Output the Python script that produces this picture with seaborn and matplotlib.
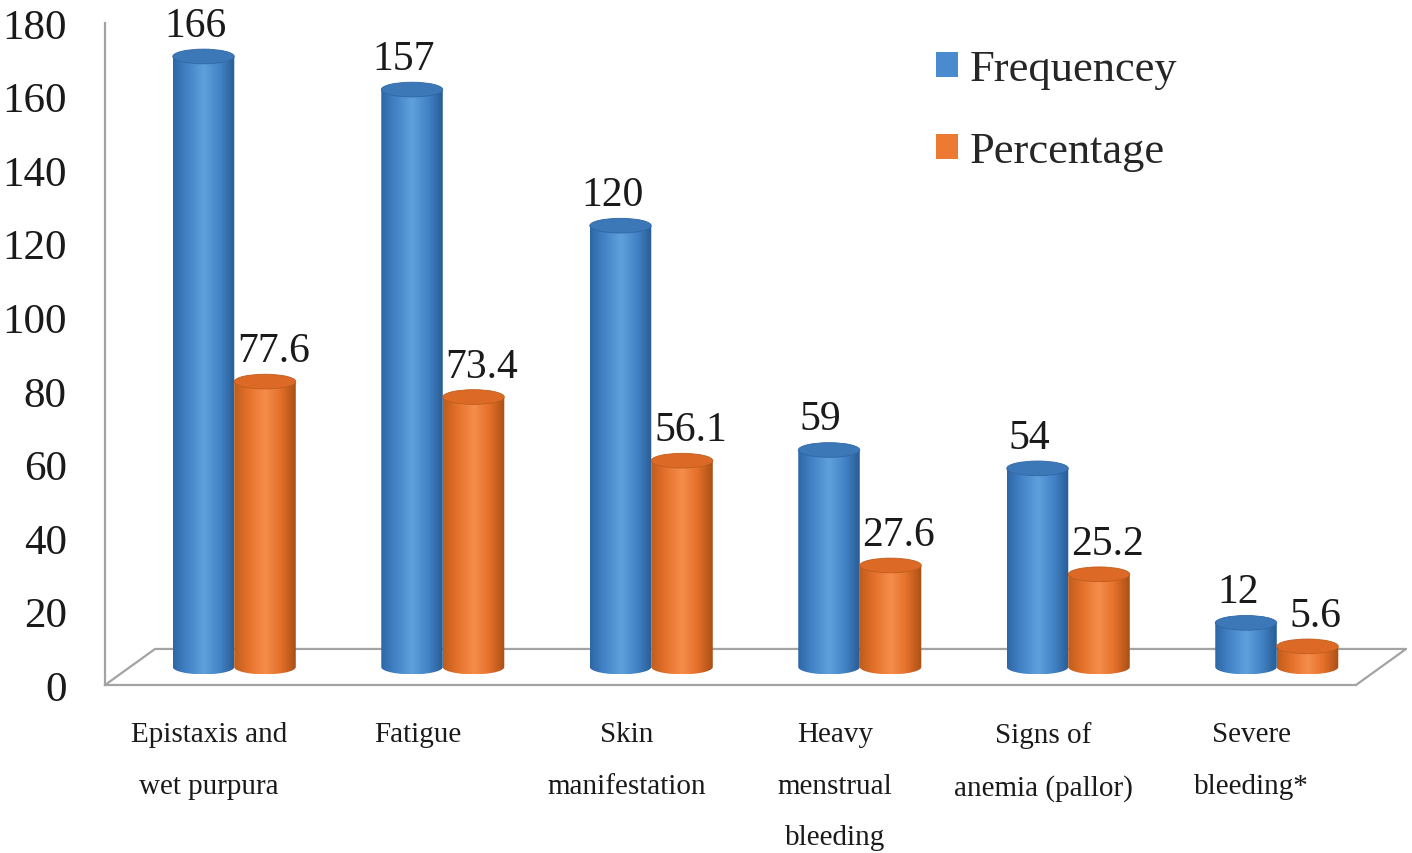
import numpy as np
import pandas as pd
import matplotlib
matplotlib.use('Agg')
import matplotlib.pyplot as plt
import seaborn as sns
from matplotlib.patches import Ellipse, PathPatch, Patch
from matplotlib.path import Path
from matplotlib.colors import LinearSegmentedColormap

# data
categories = ['Epistaxis and\nwet purpura', 'Fatigue', 'Skin\nmanifestation',
              'Heavy\nmenstrual\nbleeding', 'Signs of\nanemia (pallor)', 'Severe\nbleeding*']
frequency = [166, 157, 120, 59, 54, 12]
percentage = [77.6, 73.4, 56.1, 27.6, 25.2, 5.6]
series = ['Frequencey', 'Percentage']
yticks = list(range(0, 181, 20))

df = pd.DataFrame({
    'Symptom': categories * 2,
    'Series': [series[0]] * len(categories) + [series[1]] * len(categories),
    'Value': frequency + percentage,
})

sns.set_style('white')
plt.rcParams['font.family'] = ['Liberation Serif', 'DejaVu Serif']

colors = {'Frequencey': '#4a8bcf', 'Percentage': '#ec7a33'}
shades = {
    'Frequencey': ['#2f67a6', '#4485c9', '#5fa0dc', '#4384c8', '#285c94'],
    'Percentage': ['#c05c1c', '#e6732c', '#f58e4c', '#e4702a', '#a94f15'],
}
tops = {'Frequencey': '#3c78b8', 'Percentage': '#dc6a26'}
label_dx = {'Frequencey': -6, 'Percentage': 6}
grey = '#a3a3a3'

fig = plt.figure(figsize=(14.12, 8.54), dpi=100)
ax = fig.add_axes([105 / 1412, 168 / 854, 1251 / 1412, 662 / 854])

sns.barplot(data=df, x='Symptom', y='Value', hue='Series', palette=colors,
            width=0.59, saturation=1, legend=False, ax=ax)

# fake 3D: floor depth, bars sit half way back
depth_x, depth_y = 0.24, 9.8
ry = 2.0
grad = np.linspace(0, 1, 256).reshape(1, -1)
t = np.linspace(np.pi, 2 * np.pi, 60)

for container, name, vals in zip(ax.containers, series, [frequency, percentage]):
    cmap = LinearSegmentedColormap.from_list(name, shades[name])
    for bar, v in zip(container, vals):
        bar.set_visible(False)
        x = bar.get_x() + depth_x / 2
        w = bar.get_width()
        h = bar.get_height()
        cx = x + w / 2
        y0 = depth_y / 2
        y1 = y0 + h
        verts = [(x, y1), (x, y0)] + list(zip(cx + w / 2 * np.cos(t), y0 + ry * np.sin(t))) \
            + [(x + w, y1), (x, y1)]
        codes = [Path.MOVETO] + [Path.LINETO] * (len(verts) - 2) + [Path.CLOSEPOLY]
        body = PathPatch(Path(verts, codes), facecolor='none', edgecolor='none')
        ax.add_patch(body)
        im = ax.imshow(grad, cmap=cmap, extent=(x, x + w, y0 - ry, y1),
                       aspect='auto', zorder=2, interpolation='bilinear')
        im.set_clip_path(body)
        ax.add_patch(Ellipse((cx, y1), w, 2 * ry, facecolor=tops[name],
                             edgecolor=shades[name][0], lw=0.6, zorder=3))
        ax.annotate(f'{v:g}', (cx, y1 + ry), xytext=(label_dx[name], 3),
                    textcoords='offset points', ha='center', va='bottom',
                    fontsize=30, color='#1a1a1a', zorder=4)

# floor outline
ax.plot([-0.5, -0.5 + depth_x, 5.5 + depth_x, 5.5], [0, depth_y, depth_y, 0],
        color=grey, lw=1.6, clip_on=False, zorder=1)

ax.set_xlim(-0.5, 5.5)
ax.set_ylim(0, 180)
ax.set_yticks(yticks)
ax.set_xlabel('')
ax.set_ylabel('')
sns.despine(ax=ax)
for side in ['left', 'bottom']:
    ax.spines[side].set_color(grey)
    ax.spines[side].set_linewidth(1.6)

ax.tick_params(axis='y', length=9.5, width=1.5, color=grey, labelsize=31,
               pad=18, direction='out', labelcolor='#1a1a1a')
ax.tick_params(axis='x', which='major', length=0, labelsize=21, pad=26,
               labelcolor='#1a1a1a')
ax.set_xticks(np.arange(-0.5, 6, 1), minor=True)
ax.tick_params(axis='x', which='minor', length=9, width=1.5, color=grey,
               direction='out')
for lab in ax.get_xticklabels():
    lab.set_linespacing(2.27)

handles = [Patch(facecolor=colors[s], edgecolor='none', label=s) for s in series]
fig.legend(handles=handles, loc='upper left', bbox_to_anchor=(936 / 1412, 1 - 50 / 854),
           frameon=False, fontsize=32, handlelength=0.5, handleheight=0.5,
           handletextpad=0.25, labelspacing=0.95, borderpad=0, borderaxespad=0)

fig.savefig('out.png', dpi=100)
